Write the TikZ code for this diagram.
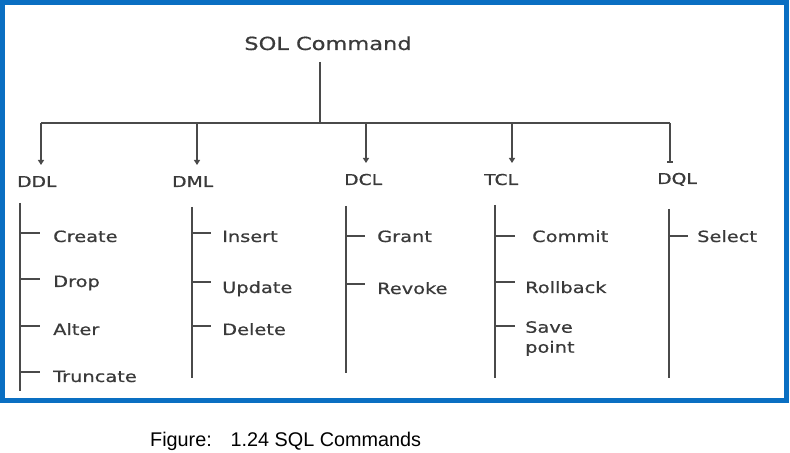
\documentclass[tikz,border=0pt]{standalone}
\usepackage{fontspec}
\setmainfont{Liberation Sans}
\newfontfamily\vfont[FakeStretch=1.25,FakeBold=0.6]{DejaVu Sans}
\usetikzlibrary{arrows.meta}
\definecolor{framec}{HTML}{0A6FC2}
\definecolor{txtc}{HTML}{3A3A3A}
\definecolor{linec}{HTML}{4A4A4A}
\begin{document}
\begin{tikzpicture}[x=1bp,y=-1bp,
  ln/.style={draw=linec,line width=1.4bp},
  arr/.style={ln,-{Triangle[width=6bp,length=5bp]}},
  barr/.style={ln,-{Rectangle[width=6bp,length=2bp]}},
  ttl/.style={inner sep=0pt,anchor=base,text=txtc,font=\vfont\fontsize{18bp}{21bp}\selectfont},
  hdr/.style={inner sep=0pt,anchor=base west,text=txtc,font=\vfont\fontsize{15bp}{18bp}\selectfont},
  itm/.style={inner sep=0pt,anchor=base west,text=txtc,font=\vfont\fontsize{15.5bp}{20bp}\selectfont},
  captxt/.style={inner sep=0pt,anchor=base west,text=black,font=\fontsize{19.8bp}{24bp}\selectfont}]
\useasboundingbox (0,0) rectangle (790,453);
\fill[white] (0,0) rectangle (790,453);
\draw[framec,line width=5bp] (2.5,2.5) rectangle (786.5,400.5);

% title
\node[ttl] (sql) at (328,50) {SOL Command};
\coordinate (t0) at (320,62);
\coordinate (t1) at (320,122);
\draw[ln] (t0) -- (t1);
\coordinate (bL) at (41,123);
\coordinate (bR) at (670,123);
\draw[ln] (bL) -- (bR);

% drops
\coordinate (d1) at (41,123);  \coordinate (e1) at (41,165);
\coordinate (d2) at (197,123); \coordinate (e2) at (197,165);
\coordinate (d3) at (366,123); \coordinate (e3) at (366,163);
\coordinate (d4) at (512,123); \coordinate (e4) at (512,163);
\coordinate (d5) at (670,123); \coordinate (e5) at (670,163);
\draw[arr] (d1) -- (e1);
\draw[arr] (d2) -- (e2);
\draw[arr] (d3) -- (e3);
\draw[arr] (d4) -- (e4);
\draw[barr] (d5) -- (e5);

% headers
\node[hdr] (ddl) at (17,187) {DDL};
\node[hdr] (dml) at (172,187) {DML};
\node[hdr] (dcl) at (344,185) {DCL};
\node[hdr] (tcl) at (484,185) {TCL};
\node[hdr] (dql) at (657,184) {DQL};

% trunks
\coordinate (s1) at (20,203); \coordinate (z1) at (20,391);
\coordinate (s2) at (192,207); \coordinate (z2) at (192,378);
\coordinate (s3) at (346,206); \coordinate (z3) at (346,373);
\coordinate (s4) at (495,205); \coordinate (z4) at (495,378);
\coordinate (s5) at (669,209); \coordinate (z5) at (669,378);
\draw[ln] (s1) -- (z1);
\draw[ln] (s2) -- (z2);
\draw[ln] (s3) -- (z3);
\draw[ln] (s4) -- (z4);
\draw[ln] (s5) -- (z5);

% DDL items
\coordinate (a1) at (20,233); \draw[ln] (a1) -- ++(20,0);
\coordinate (a2) at (20,279); \draw[ln] (a2) -- ++(20,0);
\coordinate (a3) at (20,326); \draw[ln] (a3) -- ++(20,0);
\coordinate (a4) at (20,372); \draw[ln] (a4) -- ++(20,0);
\node[itm] (create) at (53,242) {Create};
\node[itm] (drop) at (53,287) {Drop};
\node[itm] (alter) at (53,335) {Alter};
\node[itm] (trunc) at (53,382) {Truncate};

% DML items
\coordinate (m1) at (192,233); \draw[ln] (m1) -- ++(19,0);
\coordinate (m2) at (192,282); \draw[ln] (m2) -- ++(19,0);
\coordinate (m3) at (192,326); \draw[ln] (m3) -- ++(19,0);
\node[itm] (insert) at (222,242) {Insert};
\node[itm] (update) at (222,293) {Update};
\node[itm] (delete) at (222,335) {Delete};

% DCL items
\coordinate (c1) at (346,236); \draw[ln] (c1) -- ++(19,0);
\coordinate (c2) at (346,284); \draw[ln] (c2) -- ++(19,0);
\node[itm] (grant) at (377,242) {Grant};
\node[itm] (revoke) at (377,294) {Revoke};

% TCL items
\coordinate (k1) at (495,236); \draw[ln] (k1) -- ++(20,0);
\coordinate (k2) at (495,282); \draw[ln] (k2) -- ++(20,0);
\coordinate (k3) at (495,326); \draw[ln] (k3) -- ++(20,0);
\node[itm] (commit) at (532,242) {Commit};
\node[itm] (rollback) at (525,293) {Rollback};
\node[itm,align=left,anchor=north west] (save) at (525,321) {Save\\point};

% DQL items
\coordinate (q1) at (669,236); \draw[ln] (q1) -- ++(19,0);
\node[itm] (select) at (697,242) {Select};

% caption
\node[captxt] (caption) at (150,446) {Figure:\hspace{0.95em}1.24 SQL Commands};
\end{tikzpicture}
\end{document}
